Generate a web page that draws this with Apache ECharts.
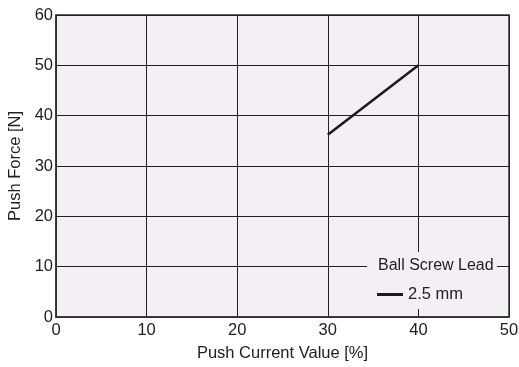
<!DOCTYPE html>
<html>
<head>
<meta charset="utf-8">
<script src="https://cdn.jsdelivr.net/npm/echarts@6/dist/echarts.min.js"></script>
<style>
  html, body { margin: 0; padding: 0; background: #fff; }
  #chart { width: 519px; height: 367px; }
</style>
</head>
<body>
<div id="chart"></div>
<script>
// push current [%] vs push force [N]
const currentValues = [30, 40]
const forceValues = [36.2, 50]
const seriesName = '2.5 mm'
const legendTitle = 'Ball Screw Lead'

const font = '"Liberation Sans", Arial, sans-serif'
const plotBg = '#f3eff5'
const textColor = '#222'

const chart = echarts.init(document.getElementById('chart'))

chart.setOption({
  animation: false,
  textStyle: { fontFamily: font },
  grid: {
    left: 56,
    top: 15,
    right: 10,
    bottom: 50,
    outerBoundsMode: 'none',
    containLabel: false,
    show: true,
    backgroundColor: plotBg,
    borderColor: '#333',
    borderWidth: 1.5
  },
  xAxis: {
    type: 'value',
    min: 0,
    max: 50,
    interval: 10,
    name: 'Push Current Value [%]',
    nameLocation: 'middle',
    nameGap: 28,
    nameTextStyle: { color: textColor, fontSize: 16.5, fontFamily: font },
    axisLine: { show: true, lineStyle: { color: '#333', width: 1.5 } },
    axisTick: { show: false },
    axisLabel: { color: textColor, fontSize: 16.5, fontFamily: font, margin: 5 },
    splitLine: { lineStyle: { color: '#222', width: 1 } }
  },
  yAxis: {
    type: 'value',
    min: 0,
    max: 60,
    interval: 10,
    name: 'Push Force [N]',
    nameLocation: 'middle',
    nameGap: 29,
    nameTextStyle: { color: textColor, fontSize: 16.5, fontFamily: font },
    axisLine: { show: true, lineStyle: { color: '#333', width: 1.5 } },
    axisTick: { show: false },
    axisLabel: { color: textColor, fontSize: 16.5, fontFamily: font, margin: 3 },
    splitLine: { lineStyle: { color: '#222', width: 1 } }
  },
  graphic: [{
    type: 'rect',
    left: 367,
    top: 252,
    shape: { width: 130, height: 57 },
    style: { fill: plotBg },
    z: 50
  }, {
    type: 'text',
    left: 378,
    top: 258,
    style: {
      text: legendTitle,
      fill: textColor,
      font: '16px ' + font
    },
    z: 60
  }],
  legend: {
    left: 372,
    top: 281,
    itemWidth: 26,
    itemHeight: 3,
    itemGap: 4,
    icon: 'rect',
    textStyle: { color: textColor, fontSize: 16.5, fontFamily: font },
    z: 60,
    data: [{ name: seriesName, icon: 'rect' }]
  },
  series: [{
    name: seriesName,
    type: 'line',
    data: currentValues.map((c, i) => [c, forceValues[i]]),
    showSymbol: false,
    lineStyle: { color: '#1a1a1a', width: 2.5 },
    itemStyle: { color: '#1a1a1a' }
  }]
})
</script>
</body>
</html>
